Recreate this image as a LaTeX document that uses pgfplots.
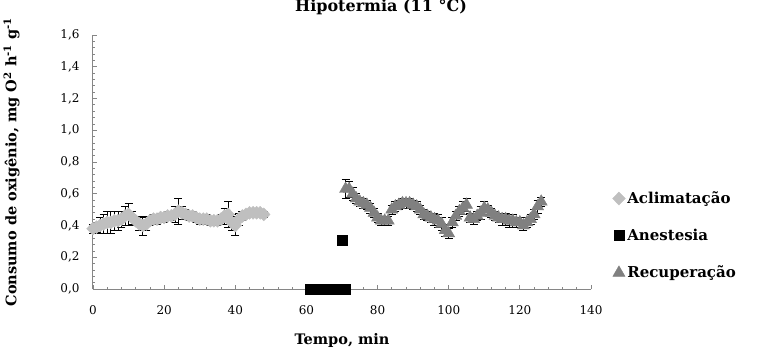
\documentclass[border=0pt]{standalone}
\usepackage{fontspec}
\setmainfont{DejaVu Serif}
\usepackage{pgfplots}
\usepackage{pgfplotstable}
\pgfplotsset{compat=1.18}

\definecolor{aclim}{RGB}{191,191,191}
\definecolor{recup}{RGB}{128,128,128}
\definecolor{axisgray}{RGB}{134,134,134}

% time (min), O2 consumption, standard error
\pgfplotstableread{
t y e
0 0.38 0.03
1 0.39 0.03
2 0.40 0.05
3 0.41 0.06
4 0.42 0.07
5 0.42 0.07
6 0.43 0.06
7 0.43 0.06
8 0.44 0.05
9 0.46 0.06
10 0.47 0.07
11 0.45 0.04
12 0.43 0.03
13 0.41 0.04
14 0.40 0.06
15 0.41 0.04
16 0.43 0.03
17 0.44 0.03
18 0.44 0.03
19 0.45 0.03
20 0.45 0.03
21 0.46 0.03
22 0.46 0.03
23 0.47 0.05
24 0.49 0.08
25 0.48 0.04
26 0.47 0.03
27 0.46 0.03
28 0.46 0.03
29 0.45 0.03
30 0.44 0.03
31 0.44 0.03
32 0.44 0.03
33 0.43 0.03
34 0.43 0.03
35 0.43 0.03
36 0.44 0.03
37 0.46 0.05
38 0.47 0.08
39 0.42 0.05
40 0.40 0.06
41 0.44 0.04
42 0.46 0.03
43 0.47 0.02
44 0.48 0.02
45 0.48 0.02
46 0.48 0.02
47 0.48 0.02
48 0.47 0.02
}\aclimatacao

\pgfplotstableread{
t y
61 0
62 0
63 0
64 0
65 0
66 0
67 0
68 0
69 0
70 0.31
71 0
}\anestesia

\pgfplotstableread{
t y e
71 0.63 0.06
72 0.63 0.05
73 0.60 0.04
74 0.57 0.03
75 0.55 0.03
76 0.54 0.03
77 0.53 0.03
78 0.51 0.03
79 0.48 0.03
80 0.45 0.03
81 0.43 0.03
82 0.43 0.03
83 0.43 0.03
84 0.50 0.03
85 0.52 0.03
86 0.53 0.03
87 0.54 0.03
88 0.54 0.03
89 0.54 0.03
90 0.53 0.03
91 0.52 0.03
92 0.50 0.03
93 0.47 0.03
94 0.46 0.03
95 0.45 0.03
96 0.44 0.04
97 0.43 0.04
98 0.41 0.04
99 0.37 0.04
100 0.35 0.03
101 0.42 0.03
102 0.46 0.03
103 0.49 0.03
104 0.51 0.04
105 0.53 0.04
106 0.45 0.03
107 0.44 0.03
108 0.46 0.03
109 0.48 0.04
110 0.51 0.04
111 0.50 0.03
112 0.48 0.03
113 0.46 0.03
114 0.45 0.03
115 0.44 0.04
116 0.44 0.04
117 0.43 0.04
118 0.43 0.04
119 0.42 0.03
120 0.42 0.03
121 0.40 0.03
122 0.42 0.03
123 0.44 0.03
124 0.47 0.03
125 0.52 0.04
126 0.55 0.03
}\recuperacao

\pgfplotsset{
  errbars/.style={
    forget plot, draw=none, mark=none,
    error bars/.cd, y dir=both, y explicit,
    error bar style={draw=black, line width=0.6pt},
    error mark options={draw=black, rotate=90, mark size=4pt, line width=0.6pt},
  },
}

\begin{document}
\begin{tikzpicture}
\begin{axis}[
  scale only axis,
  width=498pt, height=254pt,
  xmin=0, xmax=140, ymin=0, ymax=1.6,
  axis x line=bottom, axis y line=left,
  axis line style={-, draw=axisgray, line width=1pt},
  xtick distance=20, ytick distance=0.2,
  minor x tick num=4, minor y tick num=4,
  tick align=inside,
  tick style={draw=axisgray, line width=0.8pt},
  major tick length=4pt, minor tick length=2.5pt,
  ticklabel style={font=\fontsize{12}{12}\selectfont},
  xticklabel style={yshift=-13pt},
  yticklabel style={xshift=-10pt, /pgf/number format/.cd, use comma, fixed, fixed zerofill, precision=1},
  /pgf/number format/assume math mode=true,
  xlabel={\bfseries Tempo, min},
  ylabel={\bfseries Consumo de oxigênio, mg O\textsuperscript{2} h\textsuperscript{-1} g\textsuperscript{-1}},
  label style={font=\fontsize{14.5}{14.5}\selectfont},
  xlabel style={yshift=-12pt},
  ylabel style={yshift=34pt},
  clip=false,
  legend style={at={(axis description cs:1.043,0.21)}, anchor=west, draw=none, fill=none,
    font=\bfseries\fontsize{15}{15}\selectfont, row sep=20pt, inner sep=0pt,
    /tikz/every even column/.append style={column sep=2pt}},
  legend cell align=left,
  legend image code/.code={\draw plot coordinates {(0pt,0pt)};},
]
% error bars first so the markers cover them
\addplot[errbars] table[x=t, y=y, y error=e] {\aclimatacao};
\addplot[errbars] table[x=t, y=y, y error=e] {\recuperacao};

\addplot[only marks, mark=diamond*, mark size=6.5pt, color=aclim,
  mark options={xscale=1.3}]
  table[x=t, y=y] {\aclimatacao};
\addlegendentry{Aclimatação}
\addplot[only marks, mark=square*, mark size=5pt, color=black]
  table[x=t, y=y] {\anestesia};
\addlegendentry{Anestesia}
\addplot[only marks, mark=triangle*, mark size=7pt, color=recup]
  table[x=t, y=y] {\recuperacao};
\addlegendentry{Recuperação}
\end{axis}
\node[font=\bfseries\fontsize{16}{16}\selectfont, anchor=base] at (288pt,277pt) {Hipotermia (11 °C)};
\pgfresetboundingbox
\path[use as bounding box] (-93pt,-60pt) rectangle (670pt,289pt);
\end{tikzpicture}
\end{document}
